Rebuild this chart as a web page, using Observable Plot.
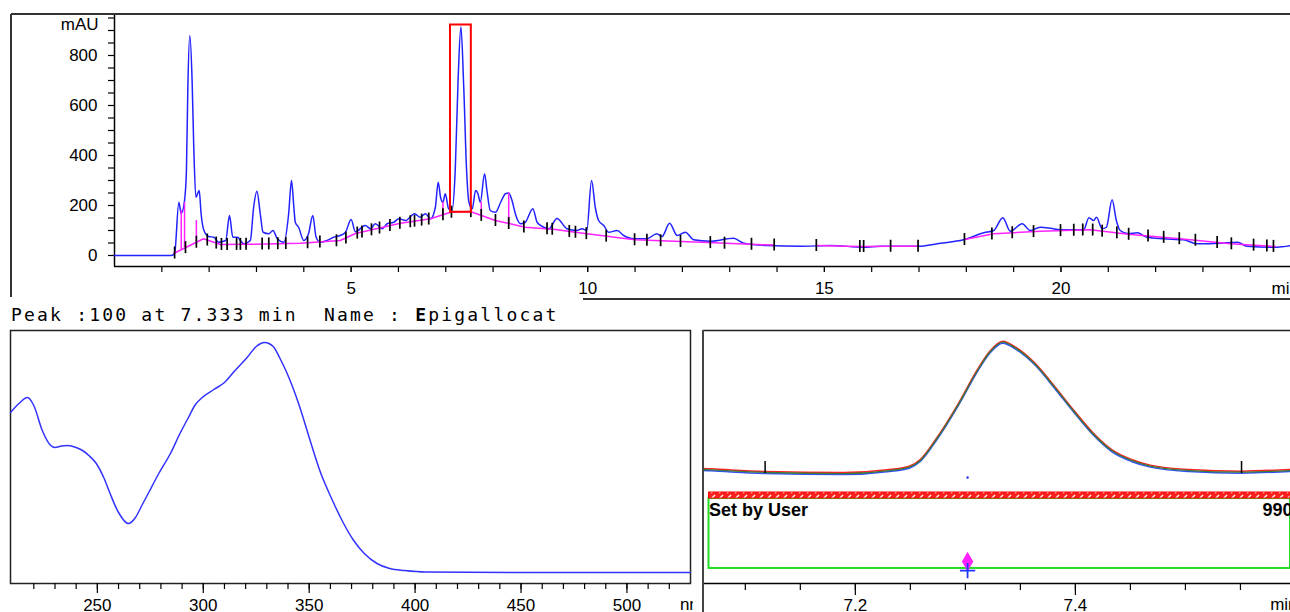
<!DOCTYPE html>
<html>
<head>
<meta charset="utf-8">
<script src="https://cdn.jsdelivr.net/npm/d3@7"></script>
<script src="https://cdn.jsdelivr.net/npm/@observablehq/plot@0.6"></script>
<style>
  html, body { margin: 0; padding: 0; background: #fff; overflow: hidden; }
  #wrap { position: relative; width: 1290px; height: 612px; overflow: hidden; background: #fff; }
  .abs { position: absolute; }
  .ln { position: absolute; background: #333; }
  #peak { position: absolute; left: 11px; top: 306px; font-family: "DejaVu Sans Mono", monospace; font-size: 18px; letter-spacing: 2.2px; color: #000; white-space: pre; line-height: 18px; }
</style>
</head>
<body>
<div id="wrap">
  <div id="top" class="abs" style="left:0;top:0"></div>
  <div class="ln" style="left:11px;top:13px;width:1279px;height:2px"></div>
  <div class="ln" style="left:10px;top:14px;width:2px;height:283px"></div>
  <div class="ln" style="left:583px;top:298px;width:707px;height:2px"></div>
  <div id="peak">Peak :100 at 7.333 min  Name : <b>E</b>pigallocat</div>
  <div id="spec" class="abs" style="left:0;top:320px"></div>
  <div id="zoomp" class="abs" style="left:693px;top:320px;background:#fff"></div>
  <div class="ln" style="left:702px;top:330px;width:2px;height:282px;background:#444"></div>
</div>
<script>
// ---------- Top chromatogram ----------
const chromTime = [0, 1.20, 1.27, 1.36, 1.41, 1.48, 1.52, 1.55, 1.59, 1.64, 1.675, 1.72, 1.79, 1.83, 1.89, 1.99, 2.10, 2.20, 2.35, 2.43, 2.50, 2.60, 2.66, 2.73, 2.87, 2.94, 3.01, 3.08, 3.14, 3.26, 3.35, 3.44, 3.58, 3.68, 3.74, 3.79, 3.82, 3.89, 4.00, 4.10, 4.19, 4.26, 4.35, 4.49, 4.63, 4.77, 4.88, 5.00, 5.09, 5.30, 5.41, 5.51, 5.66, 5.76, 5.90, 6.01, 6.15, 6.34, 6.46, 6.57, 6.68, 6.78, 6.84, 6.89, 6.94, 6.99, 7.06, 7.13, 7.20, 7.26, 7.32, 7.38, 7.44, 7.49, 7.56, 7.63, 7.68, 7.73, 7.82, 7.87, 7.94, 8.05, 8.16, 8.26, 8.33, 8.40, 8.47, 8.58, 8.68, 8.84, 8.93, 9.07, 9.18, 9.35, 9.56, 9.77, 9.88, 9.98, 10.08, 10.16, 10.23, 10.34, 10.44, 10.62, 10.76, 10.97, 11.25, 11.46, 11.57, 11.73, 11.89, 12.06, 12.24, 12.59, 13.08, 13.30, 13.79, 14.49, 15.13, 15.83, 16.18, 16.96, 17.45, 17.94, 18.37, 18.58, 18.77, 18.93, 19.18, 19.35, 19.56, 19.78, 19.99, 20.48, 20.59, 20.69, 20.75, 20.87, 20.96, 21.08, 21.17, 21.25, 21.43, 21.61, 21.82, 22.17, 22.59, 22.87, 23.37, 23.73, 23.93, 24.56, 24.85];
const chromAbs = [0, 0, 8, 213, 168, 220, 340, 673, 880, 700, 433, 233, 260, 167, 100, 76, 73, 53, 60, 160, 73, 73, 60, 47, 60, 193, 257, 167, 93, 87, 100, 67, 53, 167, 300, 193, 133, 113, 60, 87, 160, 73, 53, 60, 73, 80, 93, 144, 95, 120, 107, 127, 107, 127, 133, 147, 140, 167, 153, 167, 147, 193, 293, 233, 213, 247, 187, 180, 340, 700, 915, 673, 340, 213, 187, 260, 247, 213, 327, 260, 180, 173, 213, 247, 250, 220, 167, 127, 133, 187, 133, 113, 107, 148, 107, 100, 107, 100, 300, 192, 140, 120, 93, 100, 80, 67, 67, 87, 76, 129, 80, 93, 63, 57, 69, 49, 40, 37, 40, 33, 37, 37, 49, 63, 91, 100, 151, 97, 127, 100, 113, 109, 103, 103, 151, 140, 153, 107, 113, 223, 140, 100, 87, 91, 73, 67, 63, 47, 49, 53, 37, 33, 39];

const baseTime = [1.25, 1.88, 2.24, 2.87, 3.93, 4.77, 5.09, 6.04, 6.68, 7.10, 7.52, 8.05, 8.68, 9.32, 9.74, 10.99, 12.40, 13.70, 13.94, 14.40, 14.83, 15.75, 16.40, 16.98, 17.40, 17.96, 18.58, 19.56, 20.62, 21.47, 22.52, 23.58, 24.53];
const baseAbs  = [8, 67, 44, 45, 49, 60, 88, 129, 147, 173, 176, 140, 113, 104, 93, 63, 53, 43, 42, NaN, 40, 36, 37, 37, NaN, 64, 87, 97, 103, 84, 67, 47, 36];

const eventTimes = [1.27, 1.50, 1.73, 1.96, 2.15, 2.26, 2.38, 2.58, 2.66, 2.78, 3.12, 3.26, 3.45, 3.62, 4.08, 4.34, 4.69, 4.89, 5.13, 5.23, 5.43, 5.60, 5.82, 6.03, 6.25, 6.34, 6.49, 6.64, 6.94, 7.12, 7.53, 7.75, 8.05, 8.33, 8.65, 9.14, 9.25, 9.61, 9.74, 9.97, 10.39, 10.99, 11.25, 11.54, 11.96, 12.59, 12.89, 13.46, 13.94, 14.83, 15.75, 15.83, 16.40, 16.98, 17.96, 18.54, 18.97, 19.42, 19.99, 20.27, 20.46, 20.67, 20.87, 21.18, 21.43, 21.84, 22.17, 22.50, 22.84, 23.30, 23.60, 24.07, 24.35, 24.49];

const dropTime = [1.41, 1.48, 1.73, 6.94, 7.75, 8.33];
const dropTop  = [180, 212, 140, 213, 213, 250];

const boxTime = [7.10, 7.54];
const boxAbs  = [173, 922];

const timeTicks = d3.range(1, 25);
const timeLabels = [5, 10, 15, 20];
const absTicks = d3.range(0, 951, 50);
const absLabels = [0, 200, 400, 600, 800];

// ---------- UV spectrum ----------
const specNm  = [209, 213, 217, 220, 224, 228, 230, 233, 236, 240, 243, 246, 249.5, 253, 256, 260, 264.6, 268, 271, 274, 279, 284.5, 289, 293, 296, 299.5, 305, 310, 315, 320.7, 325, 329, 333, 336, 339.6, 345, 350, 355, 361, 366, 371, 376, 382, 388, 395, 405, 450, 530];
const specAbs = [640, 676, 700, 668, 568, 508, 500, 506, 508, 500, 488, 468, 436, 380, 316, 240, 196, 220, 268, 316, 396, 476, 556, 620, 668, 700, 732, 760, 808, 860, 904, 920, 904, 860, 796, 676, 540, 408, 288, 200, 128, 76, 36, 16, 8, 2, 0, 0];
const nmTicks = d3.range(220, 521, 10);
const nmLabels = [250, 300, 350, 400, 450, 500];

// ---------- Peak zoom (purity) ----------
const pkTime = [7.062, 7.069, 7.118, 7.189, 7.231, 7.249, 7.259, 7.273, 7.294, 7.311, 7.322, 7.334, 7.346, 7.363, 7.381, 7.398, 7.416, 7.433, 7.451, 7.468, 7.503, 7.551, 7.5955];
const pkAbs  = [192, 190, 175, 169, 186, 205, 243, 356, 563, 751, 853, 911, 876, 789, 657, 525, 394, 299, 243, 211, 186, 177, 186];
const pkMarks = [7.118, 7.551];
const pkTicks = [7.10, 7.15, 7.20, 7.25, 7.30, 7.35, 7.40, 7.45, 7.50, 7.55];
const pkLabels = [7.2, 7.4];
const purityLabel = "Set by User";
const purityValue = "990";
const apexTime = 7.302;

// helpers
function interp(xs, ys, t) {
  const pts = xs.map((x, i) => [x, ys[i]]).filter(p => Number.isFinite(p[1]));
  if (t <= pts[0][0]) return pts[0][1];
  for (let i = 1; i < pts.length; i++) {
    if (t <= pts[i][0]) {
      const [x0, y0] = pts[i - 1], [x1, y1] = pts[i];
      return y0 + (y1 - y0) * (t - x0) / (x1 - x0);
    }
  }
  return pts[pts.length - 1][1];
}

const chrom = chromTime.map((t, i) => ({t, v: chromAbs[i]}));
const base = baseTime.map((t, i) => ({t, v: baseAbs[i]}));
const events = eventTimes.map(t => { const b = interp(baseTime, baseAbs, t); return {t, y1: b - 24, y2: b + 24}; });
const drops = dropTime.map((t, i) => ({t, y1: interp(baseTime, baseAbs, t), y2: dropTop[i]}));

const font = "'Liberation Sans', Arial, Helvetica, sans-serif";

const topPlot = Plot.plot({
  width: 1290, height: 300,
  marginLeft: 114, marginRight: 0, marginTop: 15, marginBottom: 34,
  x: {domain: [0, 24.85]},
  y: {domain: [-44, 960]},
  style: {fontFamily: font, fontSize: "17px", color: "#000", background: "transparent", overflow: "visible"},
  marks: [
    Plot.axisY({ticks: absTicks, tickSize: 6, tickFormat: () => "", label: null, strokeWidth: 1.2}),
    Plot.axisY({ticks: absLabels, tickSize: 6, tickPadding: 11, label: null, fontSize: 17}),
    Plot.axisX({ticks: timeTicks, tickSize: 6, tickFormat: () => "", label: null, strokeWidth: 1.2}),
    Plot.axisX({ticks: timeLabels, tickSize: 6, tickPadding: 9, label: null, fontSize: 17}),
    Plot.ruleX([0], {stroke: "#000", strokeWidth: 1.5}),
    Plot.ruleY([-44], {stroke: "#000", strokeWidth: 1.5}),
    Plot.line(chrom, {x: "t", y: "v", stroke: "#2222ff", strokeWidth: 1.5, curve: "monotone-x"}),
    Plot.line(base, {x: "t", y: "v", stroke: "#ff22ff", strokeWidth: 1.5}),
    Plot.ruleX(drops, {x: "t", y1: "y1", y2: "y2", stroke: "#ff22ff", strokeWidth: 1.5}),
    Plot.ruleX(events, {x: "t", y1: "y1", y2: "y2", stroke: "#000", strokeWidth: 1.7}),
    Plot.rect([{}], {x1: boxTime[0], x2: boxTime[1], y1: boxAbs[0], y2: boxAbs[1], fill: "none", stroke: "#ff0000", strokeWidth: 2}),
    Plot.text(["mAU"], {x: 0, y: 925, dx: -16, textAnchor: "end", fontSize: 17}),
    Plot.text(["min"], {x: 24.45, y: -44, dy: 22, textAnchor: "start", fontSize: 17})
  ]
});
document.getElementById("top").appendChild(topPlot);

const spec = specNm.map((n, i) => ({n, v: specAbs[i]}));
const specPlot = Plot.plot({
  width: 700, height: 292,
  marginLeft: 10, marginRight: 10, marginTop: 10, marginBottom: 29,
  x: {domain: [209, 530]},
  y: {domain: [-44, 968], axis: null},
  style: {fontFamily: font, fontSize: "17px", color: "#000", background: "transparent", overflow: "visible"},
  marks: [
    Plot.frame({stroke: "#222", strokeWidth: 1.5}),
    Plot.axisX({ticks: nmTicks, tickSize: 6, tickFormat: () => "", label: null, strokeWidth: 1.2}),
    Plot.axisX({ticks: nmLabels, tickSize: 10, tickPadding: 5, label: null, fontSize: 17, strokeWidth: 1.2}),
    Plot.line(spec, {x: "n", y: "v", stroke: "#3333ff", strokeWidth: 1.5, curve: "monotone-x"}),
    Plot.text(["nm"], {x: 525, y: -44, dy: 21, textAnchor: "start", fontSize: 17})
  ]
});
document.getElementById("spec").appendChild(specPlot);

const pk = pkTime.map((t, i) => ({t, v: pkAbs[i]}));
const pkPlot = Plot.plot({
  width: 597, height: 292,
  marginLeft: 10, marginRight: 0, marginTop: 10, marginBottom: 29,
  x: {domain: [7.062, 7.5955]},
  y: {domain: [-452, 977], axis: null},
  style: {fontFamily: font, fontSize: "17px", color: "#000", background: "#fff", overflow: "visible"},
  marks: [
    Plot.ruleY([977], {stroke: "#222", strokeWidth: 1.5}),
    Plot.ruleY([-452], {stroke: "#000", strokeWidth: 1.5}),
    Plot.axisX({ticks: pkTicks, tickSize: 7, tickFormat: () => "", label: null, strokeWidth: 1.2}),
    Plot.axisX({ticks: pkLabels, tickSize: 12, tickPadding: 3, tickFormat: d => d.toFixed(1), label: null, fontSize: 17, strokeWidth: 1.2}),
    Plot.rect([{}], {x1: 7.067, x2: 7.5955, y1: -367, y2: 28, fill: "none", stroke: "#22dd22", strokeWidth: 2}),
    Plot.rect([{}], {x1: 7.067, x2: 7.5955, y1: 28, y2: 62, fill: "url(#hatch)", stroke: "#ff0000", strokeWidth: 1}),
    Plot.text([purityLabel], {x: 7.067, y: -40, textAnchor: "start", fontWeight: "bold", fontSize: 18}),
    Plot.text([purityValue], {x: 7.570, y: -40, textAnchor: "start", fontWeight: "bold", fontSize: 18}),
    Plot.line(pk, {x: "t", y: "v", stroke: "#3050ff", strokeWidth: 1.5, curve: "monotone-x", dy: 1}),
    Plot.line(pk, {x: "t", y: "v", stroke: "#ff2020", strokeWidth: 1.5, curve: "monotone-x", dy: -1}),
    Plot.line(pk, {x: "t", y: "v", stroke: "#3a7a3a", strokeWidth: 1.3, curve: "monotone-x"}),
    Plot.ruleX(pkMarks, {y1: 169, y2: 237, stroke: "#000", strokeWidth: 1.5}),
    Plot.dot([apexTime], {x: d => d, y: 147, r: 1.2, fill: "#2233ff", stroke: null}),
    Plot.dot([apexTime], {x: d => d, y: -328, symbol: "diamond", r: 6, fill: "#ff22ff", stroke: null}),
    Plot.dot([apexTime], {x: d => d, y: -379, symbol: "plus", r: 5, stroke: "#2233ff", strokeWidth: 1.8}),
    Plot.text(["min"], {x: 7.577, y: -452, dy: 21, textAnchor: "start", fontSize: 17})
  ]
});
const defs = d3.select(pkPlot).insert("defs", ":first-child");
const pat = defs.append("pattern").attr("id", "hatch").attr("patternUnits", "userSpaceOnUse").attr("width", 8).attr("height", 6);
pat.append("rect").attr("width", 8).attr("height", 6).attr("fill", "#ff2020");
pat.append("path").attr("d", "M2,5 L6,1").attr("stroke", "#fff").attr("stroke-width", 1.4);
document.getElementById("zoomp").appendChild(pkPlot);
</script>
</body>
</html>
